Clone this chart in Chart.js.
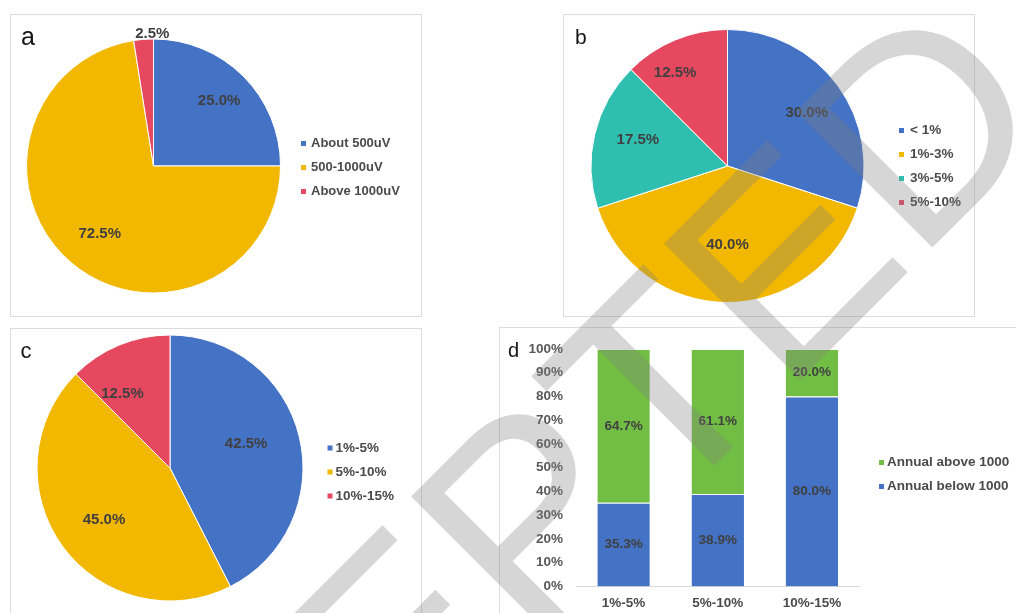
<!DOCTYPE html>
<html>
<head>
<meta charset="utf-8">
<script src="https://cdn.jsdelivr.net/npm/chart.js@4.4.1/dist/chart.umd.min.js"></script>
<style>
  body { margin:0; background:#fff; width:1016px; height:613px; overflow:hidden; position:relative; font-family:"Liberation Sans", Arial, sans-serif; }
  .frame { position:absolute; border:1px solid #dcdcdc; box-sizing:border-box; }
  .tag { position:absolute; line-height:1; color:#151515; }
  canvas.layer { position:absolute; left:0; top:0; }
</style>
</head>
<body>
<div class="frame" style="left:10px;top:14px;width:412px;height:303px"></div>
<div class="frame" style="left:563px;top:14px;width:412px;height:303px"></div>
<div class="frame" style="left:10px;top:328px;width:412px;height:300px"></div>
<div class="frame" style="left:499px;top:327px;width:530px;height:300px"></div>

<canvas class="layer" id="pieA" width="1016" height="613"></canvas>
<canvas class="layer" id="pieB" width="1016" height="613"></canvas>
<canvas class="layer" id="pieC" width="1016" height="613"></canvas>
<canvas class="layer" id="barD" width="1016" height="613"></canvas>

<div class="tag" style="left:21px;top:24px;font-size:25px">a</div>
<div class="tag" style="left:575px;top:25.5px;font-size:21px">b</div>
<div class="tag" style="left:20.5px;top:340px;font-size:22px">c</div>
<div class="tag" style="left:508px;top:340px;font-size:20px">d</div>

<canvas class="layer" id="wm" width="1016" height="613" style="pointer-events:none"></canvas>

<script>
const FONT = '"Liberation Sans", Arial, sans-serif';

// a: signal amplitude groups
const ampLabels = ['About 500uV', '500-1000uV', 'Above 1000uV'];
const ampShare = [25.0, 72.5, 2.5];

// b: rate groups
const rateLabels = ['< 1%', '1%-3%', '3%-5%', '5%-10%'];
const rateShare = [30.0, 40.0, 17.5, 12.5];

// c: band groups
const bandLabels = ['1%-5%', '5%-10%', '10%-15%'];
const bandShare = [42.5, 45.0, 12.5];

// d: stacked share per band
const groupLabels = ['1%-5%', '5%-10%', '10%-15%'];
const belowShare = [35.3, 38.9, 80.0];
const aboveShare = [64.7, 61.1, 20.0];

const BLUE = '#4472C4', GOLD = '#F2B800', TEAL = '#2EBFB0', RED = '#E64860', GREEN = '#72BE44';

// percentage text on each pie slice
const sliceLabels = {
  id: 'sliceLabels',
  afterDatasetsDraw(chart, args, opts) {
    const { ctx } = chart;
    const values = chart.data.datasets[0].data;
    ctx.save();
    ctx.font = `bold ${opts.size}px ${FONT}`;
    ctx.fillStyle = '#404040';
    ctx.textAlign = 'center';
    ctx.textBaseline = 'middle';
    chart.getDatasetMeta(0).data.forEach((arc, i) => {
      const p = arc.getProps(['x', 'y', 'startAngle', 'endAngle', 'outerRadius'], true);
      const [frac, nudge] = opts.place[i];
      const a = (p.startAngle + p.endAngle) / 2 + nudge * Math.PI / 180;
      ctx.fillText(values[i].toFixed(1) + '%', p.x + Math.cos(a) * p.outerRadius * frac, p.y + Math.sin(a) * p.outerRadius * frac);
    });
    ctx.restore();
  }
};

// value text centred in each stacked segment
const stackLabels = {
  id: 'stackLabels',
  afterDatasetsDraw(chart, args, opts) {
    const { ctx } = chart;
    ctx.save();
    ctx.font = `bold ${opts.size}px ${FONT}`;
    ctx.fillStyle = '#404040';
    ctx.textAlign = 'center';
    ctx.textBaseline = 'middle';
    chart.data.datasets.forEach((ds, di) => {
      chart.getDatasetMeta(di).data.forEach((bar, i) => {
        const p = bar.getProps(['x', 'y', 'base'], true);
        ctx.fillText(ds.data[i].toFixed(1) + '%', p.x, (p.y + p.base) / 2);
      });
    });
    ctx.restore();
  }
};

// small square-marker legend beside each chart
const sideLegend = {
  id: 'sideLegend',
  afterDraw(chart, args, opts) {
    const { ctx } = chart;
    let items;
    if (chart.config.type === 'bar') {
      items = chart.data.datasets.map(d => ({ text: d.label, color: d.backgroundColor }));
    } else {
      items = chart.data.labels.map((t, i) => ({ text: t, color: chart.data.datasets[0].backgroundColor[i] }));
    }
    if (opts.reverse) items.reverse();
    ctx.save();
    ctx.font = `bold ${opts.size}px ${FONT}`;
    ctx.textBaseline = 'middle';
    items.forEach((it, i) => {
      const y = opts.top + i * opts.gap;
      ctx.fillStyle = it.color;
      ctx.fillRect(opts.x, y - 2.5, 5, 5);
      ctx.fillStyle = '#4a4a4a';
      ctx.fillText(it.text, opts.x + opts.indent, y);
    });
    ctx.restore();
  }
};

function pieChart(id, labels, values, colors, area, radius, place, legend) {
  return new Chart(document.getElementById(id), {
    type: 'pie',
    data: {
      labels: labels,
      datasets: [{ data: values, backgroundColor: colors, borderColor: '#fff', borderWidth: 1, radius: radius }]
    },
    options: {
      responsive: false,
      animation: false,
      layout: { padding: area },
      plugins: {
        legend: { display: false },
        tooltip: { enabled: false },
        sliceLabels: { size: 15, place: place },
        sideLegend: legend
      }
    },
    plugins: [sliceLabels, sideLegend]
  });
}

pieChart('pieA', ampLabels, ampShare, [BLUE, GOLD, RED],
  { left: 18.5, top: 31, right: 727.5, bottom: 312 }, 127,
  [[0.73, 0], [0.68, -2], [1.04, 4]],
  { x: 301, indent: 10, top: 143.5, gap: 24, size: 13 });

pieChart('pieB', rateLabels, rateShare, [BLUE, GOLD, TEAL, RED],
  { left: 587.5, top: 26, right: 148.5, bottom: 307 }, 136.5,
  [[0.70, 2], [0.58, 0], [0.685, 3], [0.78, -7]],
  { x: 899, indent: 11, top: 130.5, gap: 24, size: 13.5 });

pieChart('pieC', bandLabels, bandShare, [BLUE, GOLD, RED],
  { left: 35, top: 333, right: 711, bottom: 10 }, 133,
  [[0.60, -4], [0.63, -2], [0.665, -10]],
  { x: 327.5, indent: 8, top: 448, gap: 24, size: 13.5 });

const tickFont = { family: FONT, size: 13.5, weight: 'bold' };

new Chart(document.getElementById('barD'), {
  type: 'bar',
  data: {
    labels: groupLabels,
    datasets: [
      { label: 'Annual below 1000', data: belowShare, backgroundColor: BLUE },
      { label: 'Annual above 1000', data: aboveShare, backgroundColor: GREEN }
    ]
  },
  options: {
    responsive: false,
    animation: false,
    layout: { padding: { left: 516.5, top: 349, right: 157, bottom: 0 } },
    datasets: {
      bar: {
        barPercentage: 0.557,
        categoryPercentage: 1,
        borderColor: '#fff',
        borderWidth: { top: 1, left: 0, right: 0, bottom: 0 },
        borderSkipped: false
      }
    },
    scales: {
      x: {
        stacked: true,
        grid: { display: false, drawTicks: false },
        border: { color: '#d9d9d9', width: 1 },
        ticks: { font: tickFont, color: '#4a4a4a', padding: 9 },
        afterFit: s => { s.height = 26.5; }
      },
      y: {
        stacked: true,
        min: 0,
        max: 100,
        grid: { display: false, drawTicks: false },
        border: { display: false },
        ticks: { stepSize: 10, padding: 13.5, font: tickFont, color: '#595959', callback: v => v + '%' },
        afterFit: s => { s.width = 60; }
      }
    },
    plugins: {
      legend: { display: false },
      tooltip: { enabled: false },
      stackLabels: { size: 13.5 },
      sideLegend: { x: 879, indent: 8, top: 462.5, gap: 24, size: 13.5, reverse: true }
    }
  },
  plugins: [stackLabels, sideLegend]
});

// diagonal status stamp across the figure
const wm = document.getElementById('wm').getContext('2d');
wm.save();
wm.translate(-19, 1199);
wm.rotate(-Math.PI / 4);
wm.font = `280px ${FONT}`;
wm.fillStyle = 'rgba(128,128,128,0.32)';
wm.fillText('ACCEPTED', 0, 0);
wm.restore();
</script>
</body>
</html>
